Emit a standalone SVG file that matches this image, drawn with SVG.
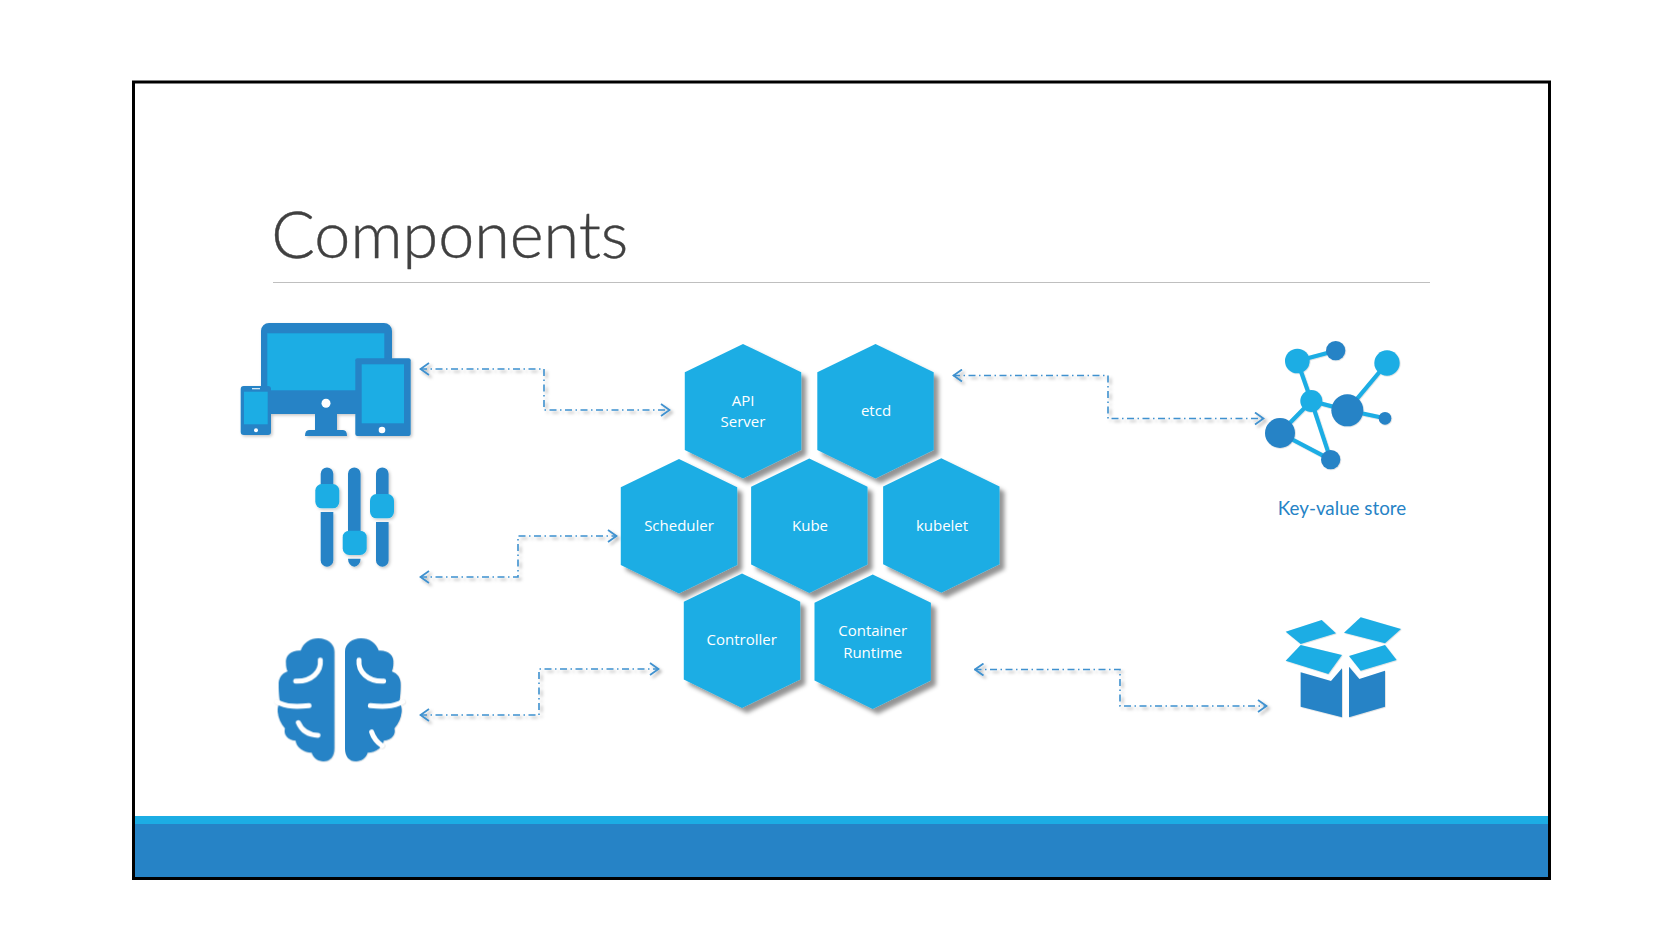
<svg xmlns="http://www.w3.org/2000/svg" width="1670" height="935" viewBox="0 0 1670 935">
<style>
.l{fill:#1CADE4}.d{fill:#2683C6}
.hx{fill:#1CADE4}
.ht{fill:#fff;font-family:"Open Sans","Liberation Sans",sans-serif;font-size:15px;text-anchor:middle}
.c{fill:none;stroke:#3F91CF;stroke-width:1.6;stroke-dasharray:7 3.5 1.5 3.5;marker-start:url(#ah);marker-end:url(#ah)}
.lk{stroke:#1CADE4;stroke-width:12.5;fill:none}
.wc{fill:none;stroke:#fff;stroke-linecap:round}
</style>
<defs>
<filter id="hs" x="-10%" y="-10%" width="130%" height="130%"><feDropShadow dx="5" dy="5" stdDeviation="2.2" flood-color="#000" flood-opacity=".42"/></filter>
<filter id="is" x="-10%" y="-10%" width="125%" height="125%"><feDropShadow dx="1.5" dy="1.5" stdDeviation="1.5" flood-color="#000" flood-opacity=".22"/></filter>
<filter id="cs" x="-5%" y="-20%" width="110%" height="140%"><feDropShadow dx="2.5" dy="2.5" stdDeviation="1.8" flood-color="#000" flood-opacity=".3"/></filter>
<marker id="ah" viewBox="0 0 12 14" refX="11" refY="7" markerUnits="userSpaceOnUse" markerWidth="12" markerHeight="14" orient="auto-start-reverse"><path d="M2 1 L10.5 7 L2 13" fill="none" stroke="#3F91CF" stroke-width="1.8"/></marker>
<polygon id="hex" points="0,-67.3 58.2,-39 58.2,38.7 0,67.3 -58.2,38.7 -58.2,-39"/>
</defs>
<rect x="133.5" y="82" width="1416" height="796.5" fill="#fff" stroke="#000" stroke-width="3"/>
<rect x="135" y="816" width="1413" height="8" class="l"/>
<rect x="135" y="824" width="1413" height="53" class="d"/>
<text id="title" x="271.2" y="258" font-family="Lato,'Open Sans',sans-serif" font-weight="300" font-size="64.7" fill="#404040" stroke="#404040" stroke-width=".4">Components</text>
<rect x="273" y="282" width="1157" height="1" fill="#bfbfbf"/>

<g id="connectors" filter="url(#cs)">
<path class="c" d="M420 369H544V410H670"/>
<path class="c" d="M420 577H518V536H617"/>
<path class="c" d="M420 715H539V669H659"/>
<path class="c" d="M953 375.500H1108V418.500H1264"/>
<path class="c" d="M974.500 669.500H1120V706H1267"/>
</g>

<g id="devices" filter="url(#is)">
<path class="d" d="M261 331a8 8 0 0 1 8-8h115a8 8 0 0 1 8 8v83H337v16h6q4 0 4 6H305q0-6 4-6h6V414H261z"/>
<rect class="l" x="267.300" y="333.300" width="117" height="57"/>
<circle cx="326" cy="403.300" r="4.500" fill="#fff"/>
<rect class="d" x="355.300" y="358.300" width="55.400" height="77.700" rx="2"/>
<rect class="l" x="361.700" y="364.300" width="42.300" height="59"/>
<circle cx="382" cy="430" r="3.300" fill="#fff"/>
<rect class="d" x="240.700" y="386" width="30.300" height="49" rx="3"/>
<rect class="l" x="244" y="391.700" width="23.700" height="32.600"/>
<circle cx="256" cy="430.300" r="2" fill="#fff"/>
<rect x="252" y="388" width="8" height="1.300" fill="#cfe6f5"/>
</g>

<g id="sliders" filter="url(#is)">
<path class="d" d="M320.700 490v-16.300a6.300 6.300 0 0 1 12.600 0V490zM320.700 512h12.600v48.400a6.300 6.300 0 0 1-12.600 0z"/>
<path class="d" d="M348 540V473.700a6.300 6.300 0 0 1 12.600 0V540zM348 558.700h12.600a6.300 8 0 0 1-12.600 0z"/>
<path class="d" d="M376 500V473.700a6.300 6.300 0 0 1 12.600 0V500zM376 522h12.600v38.400a6.300 6.300 0 0 1-12.600 0z"/>
<rect class="l" x="315.300" y="484" width="24" height="24.300" rx="6.500"/>
<rect class="l" x="342.700" y="530.700" width="24" height="24.300" rx="6.500"/>
<rect class="l" x="370" y="494" width="24" height="24.300" rx="6.500"/>
</g>

<g id="brain" filter="url(#is)" transform="translate(250 620) scale(.33333)">
<g id="brain-left">
<path class="d" d="M253 95C253 70 230 55 205 55C180 55 160 68 152 92C125 90 105 105 108 130C108 140 110 148 113 154C95 160 85 175 86 195C86 215 88 235 90 245C85 255 82 265 83 275C85 295 92 310 105 325C100 340 110 360 137 362C138 380 160 398 185 398C190 415 205 424 220 424C240 424 253 410 253 385Z"/>
<path class="wc" stroke-width="15" d="M211 120C214 155 185 185 137 183"/>
<path class="wc" stroke-width="15" d="M80 245C110 262 145 260 177 257"/>
<path class="wc" stroke-width="15" d="M145 308C155 332 175 345 204 346"/>
</g>
<g id="brain-right">
<path class="d" transform="translate(538 0) scale(-1 1)" d="M253 95C253 70 230 55 205 55C180 55 160 68 152 92C125 90 105 105 108 130C108 140 110 148 113 154C95 160 85 175 86 195C86 215 88 235 90 245C85 255 82 265 83 275C85 295 92 310 105 325C100 340 110 360 137 362C138 380 160 398 185 398C190 415 205 424 220 424C240 424 253 410 253 385Z"/>
<path class="wc" stroke-width="15" d="M327 120C324 155 353 185 401 183"/>
<path class="wc" stroke-width="15" d="M458 245C428 262 393 260 361 257"/>
<path class="wc" stroke-width="15" d="M365 336C370 352 381 366 396 377"/>
</g>
</g>

<g id="node-api"><use href="#hex" x="743" y="411.200" class="hx" filter="url(#hs)"/><text class="ht" x="743" y="406">API</text><text class="ht" x="743" y="427">Server</text></g>
<g id="node-etcd"><use href="#hex" x="875.500" y="411.200" class="hx" filter="url(#hs)"/><text class="ht" x="876" y="416">etcd</text></g>
<g id="node-scheduler"><use href="#hex" x="679" y="526.300" class="hx" filter="url(#hs)"/><text class="ht" x="679" y="531.300">Scheduler</text></g>
<g id="node-kube"><use href="#hex" x="809.300" y="525.800" class="hx" filter="url(#hs)"/><text class="ht" x="810" y="531">Kube</text></g>
<g id="node-kubelet"><use href="#hex" x="941.300" y="525.500" class="hx" filter="url(#hs)"/><text class="ht" x="942" y="530.700">kubelet</text></g>
<g id="node-controller"><use href="#hex" x="742" y="640.700" class="hx" filter="url(#hs)"/><text class="ht" x="741.700" y="645.300">Controller</text></g>
<g id="node-runtime"><use href="#hex" x="872.700" y="641.700" class="hx" filter="url(#hs)"/><text class="ht" x="872.700" y="636">Container</text><text class="ht" x="872.700" y="657.600">Runtime</text></g>

<g id="kv-store">
<g filter="url(#is)" transform="translate(1240 330) scale(.33333)">
<path class="lk" d="M172 93L287 62M172 93L214 213L322 241L441 99M322 241L435 265M214 213L120 309L272 389L214 213"/>
<circle class="l" cx="172" cy="93" r="37"/><circle class="l" cx="441" cy="99" r="38"/><circle class="l" cx="214" cy="213" r="33"/>
<circle class="d" cx="287" cy="62" r="29"/><circle class="d" cx="322" cy="241" r="48"/><circle class="d" cx="120" cy="309" r="45"/><circle class="d" cx="272" cy="389" r="29"/><circle class="d" cx="435" cy="265" r="19"/>
</g>
<text x="1342" y="514.500" text-anchor="middle" font-family="Lato,'Open Sans',sans-serif" font-size="18.800" fill="#2683C6">Key-value store</text>
</g>

<g id="container-box" filter="url(#is)" transform="translate(1270 600) scale(.33333)">
<polygon class="l" points="47,95 155,60 198,100 92,132"/>
<polygon class="l" points="222,98 272,52 393,87 345,130"/>
<polygon class="l" points="47,182 92,135 216,165 175,222"/>
<polygon class="l" points="237,168 345,135 380,180 272,212"/>
<polygon class="d" points="92,217 183,243 216,205 216,352 92,320"/>
<polygon class="d" points="237,200 268,237 345,212 345,320 237,352"/>
</g>
</svg>
